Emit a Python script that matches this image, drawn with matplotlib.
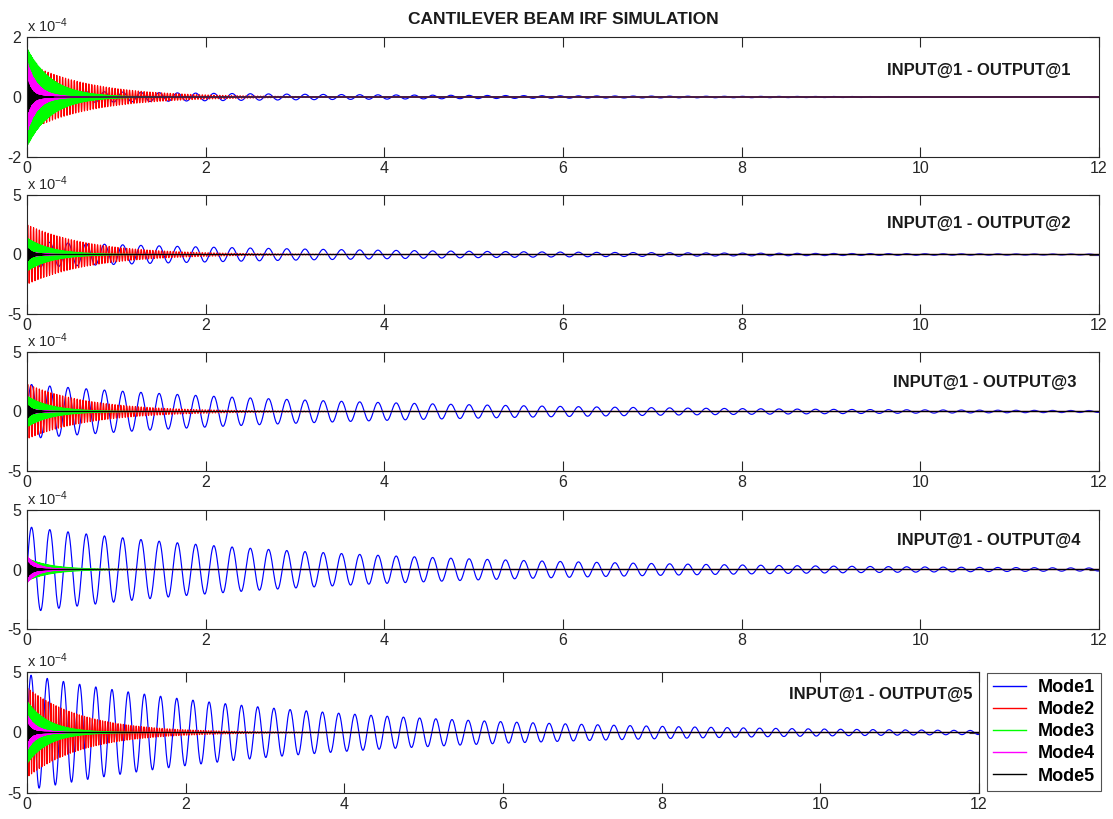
import numpy as np
import matplotlib
matplotlib.use("Agg")
import matplotlib.pyplot as plt
from matplotlib.ticker import FuncFormatter

plt.rcParams['font.family'] = ['Liberation Sans', 'DejaVu Sans']
plt.rcParams['axes.unicode_minus'] = False
plt.rcParams['mathtext.fontset'] = 'custom'
plt.rcParams['mathtext.rm'] = 'Liberation Sans'
plt.rcParams['mathtext.it'] = 'Liberation Sans'

# ---- data (modal parameters) ----
mode_names = ['Mode1', 'Mode2', 'Mode3', 'Mode4', 'Mode5']
mode_colors = ['#0000ff', '#ff0000', '#00ff00', '#ff00ff', '#000000']
freq_hz = [4.9, 30.7, 86.0, 168.6, 278.0]
zeta = [0.0091, 0.0073, 0.0068, 0.0080, 0.0105]
amp_out1 = [0.22e-4, 1.15e-4, 1.65e-4, 1.20e-4, 0.60e-4]
amp_out2 = [1.10e-4, 2.50e-4, 1.40e-4, 0.30e-4, 0.60e-4]
amp_out3 = [2.30e-4, 2.30e-4, 1.30e-4, 0.30e-4, 0.60e-4]
amp_out4 = [3.60e-4, 0.15e-4, 0.95e-4, 1.15e-4, 0.70e-4]
amp_out5 = [4.80e-4, 3.70e-4, 2.60e-4, 1.50e-4, 0.80e-4]
amps = [amp_out1, amp_out2, amp_out3, amp_out4, amp_out5]
panel_labels = ['INPUT@1 - OUTPUT@1', 'INPUT@1 - OUTPUT@2', 'INPUT@1 - OUTPUT@3',
                'INPUT@1 - OUTPUT@4', 'INPUT@1 - OUTPUT@5']
ylims = [2e-4, 5e-4, 5e-4, 5e-4, 5e-4]
xticks = [0, 2, 4, 6, 8, 10, 12]
t_end = 12.0
dt = 0.0005

t = np.arange(0, t_end + dt / 2, dt)

fig = plt.figure(figsize=(11.13, 8.19), dpi=100)
W, H = 1113.0, 819.0
# axes boxes in pixels: (left, top, right, bottom)
boxes = [(27, 37, 1099, 157), (27, 195, 1099, 314), (27, 352, 1099, 471),
         (27, 510, 1099, 629), (27, 672, 979, 793)]
label_pos = [(0.888, 0.725), (0.888, 0.76), (0.893, 0.74), (0.897, 0.74), (0.897, 0.81)]

axes = []
for i, (l, tp, r, b) in enumerate(boxes):
    ax = fig.add_axes([l / W, 1 - b / H, (r - l) / W, (b - tp) / H])
    axes.append(ax)
    handles = []
    for m in range(5):
        wn = 2 * np.pi * freq_hz[m]
        wd = wn * np.sqrt(1 - zeta[m] ** 2)
        y = amps[i][m] * np.exp(-zeta[m] * wn * t) * np.sin(wd * t)
        h, = ax.plot(t, y, color=mode_colors[m], lw=0.85, label=mode_names[m])
        handles.append(h)
    ax.set_xlim(0, t_end)
    ax.set_ylim(-ylims[i], ylims[i])
    ax.set_xticks(xticks)
    ax.set_yticks([-ylims[i], 0, ylims[i]])
    ax.yaxis.set_major_formatter(FuncFormatter(lambda v, p: '%g' % round(v / 1e-4, 6)))
    ax.tick_params(direction='in', top=True, right=True, length=7, width=0.8,
                   labelsize=11.5, colors='#262626')
    ax.tick_params(axis='x', pad=3)
    ax.tick_params(axis='y', pad=4)
    for s in ax.spines.values():
        s.set_color('#262626')
        s.set_linewidth(0.8)
    ax.text(0.0, 5.0 / (b - tp) + 1.0, r'x 10$^{-4}$', transform=ax.transAxes,
            ha='left', va='baseline', fontsize=10.5, color='#262626')
    ax.text(label_pos[i][0], label_pos[i][1], panel_labels[i], transform=ax.transAxes,
            ha='center', va='center', fontsize=12, fontweight='bold', color='#1a1a1a')

axes[0].set_title('CANTILEVER BEAM IRF SIMULATION', fontsize=12.5, fontweight='bold',
                  color='#1a1a1a', pad=9)

leg = fig.legend(handles=handles, labels=mode_names, loc='upper left',
                 bbox_to_anchor=(987 / W, 1 - 673 / H), bbox_transform=fig.transFigure,
                 prop={'weight': 'bold', 'size': 13}, frameon=True, fancybox=False,
                 edgecolor='#262626', handlelength=1.8, handletextpad=0.65,
                 labelspacing=0.28, borderpad=0.35, borderaxespad=0)
leg.get_frame().set_linewidth(0.8)
for lh in leg.get_lines():
    lh.set_linewidth(1.0)

fig.savefig('out.png', dpi=100)
